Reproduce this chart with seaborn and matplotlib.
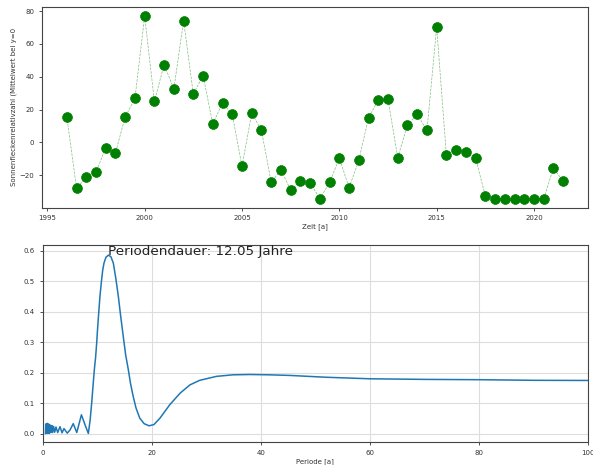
import matplotlib
matplotlib.use("Agg")
import matplotlib.pyplot as plt
import seaborn as sns
import pandas as pd

# Half-yearly sunspot relative numbers, mean removed
jahre = [1996.0, 1996.5, 1997.0, 1997.5, 1998.0, 1998.5, 1999.0, 1999.5,
         2000.0, 2000.5, 2001.0, 2001.5, 2002.0, 2002.5, 2003.0, 2003.5,
         2004.0, 2004.5, 2005.0, 2005.5, 2006.0, 2006.5, 2007.0, 2007.5,
         2008.0, 2008.5, 2009.0, 2009.5, 2010.0, 2010.5, 2011.0, 2011.5,
         2012.0, 2012.5, 2013.0, 2013.5, 2014.0, 2014.5, 2015.0, 2015.5,
         2016.0, 2016.5, 2017.0, 2017.5, 2018.0, 2018.5, 2019.0, 2019.5,
         2020.0, 2020.5, 2021.0, 2021.5]
sonnenflecken = [15.6, -27.8, -21.3, -18.3, -3.2, -6.3, 15.6, 26.8,
                 77.0, 25.0, 47.5, 32.5, 74.3, 29.4, 40.8, 11.2,
                 24.2, 17.1, -14.6, 17.9, 7.3, -24.4, -16.6, -29.0,
                 -23.8, -24.6, -34.3, -24.4, -9.5, -27.6, -11.0, 15.0,
                 25.8, 26.4, -9.3, 10.6, 17.1, 7.3, 70.3, -7.9,
                 -4.7, -5.7, -9.5, -32.7, -34.3, -34.3, -34.3, -34.3,
                 -34.3, -34.3, -15.6, -23.8]

# Periodogram: power over period in years
periode = [0.50, 0.55, 0.60, 0.65, 0.70, 0.75, 0.80, 0.85, 0.90, 0.95,
           1.00, 1.05, 1.10, 1.15, 1.20, 1.28, 1.35, 1.45, 1.55, 1.68,
           1.83, 2.00, 2.20, 2.44, 2.75, 3.17, 3.55, 3.90, 4.50, 5.00,
           5.60, 6.25, 7.10, 7.75, 8.37, 8.70, 8.98, 9.20, 9.47, 9.70,
           9.90, 10.05, 10.27, 10.50, 10.80, 11.00, 11.24, 11.60, 12.05, 12.50,
           12.95, 13.40, 13.87, 14.30, 14.78, 15.20, 15.70, 16.10, 16.60, 17.10,
           17.80, 18.60, 19.50, 20.40, 21.50, 23.30, 25.20, 27.00, 28.80, 31.90,
           34.90, 38.00, 41.50, 45.30, 52.00, 60.00, 70.00, 80.00, 90.00, 100.00]
leistung = [0.000, 0.030, 0.002, 0.033, 0.004, 0.031, 0.001, 0.034, 0.003, 0.030,
            0.002, 0.032, 0.004, 0.028, 0.001, 0.030, 0.003, 0.026, 0.005, 0.027,
            0.004, 0.024, 0.005, 0.022, 0.004, 0.023, 0.003, 0.017, 0.002, 0.012,
            0.033, 0.004, 0.062, 0.030, 0.001, 0.045, 0.100, 0.150, 0.210, 0.250,
            0.297, 0.340, 0.395, 0.450, 0.504, 0.535, 0.559, 0.578, 0.585, 0.580,
            0.559, 0.510, 0.450, 0.385, 0.318, 0.260, 0.210, 0.165, 0.122, 0.085,
            0.051, 0.033, 0.026, 0.030, 0.051, 0.095, 0.133, 0.160, 0.175, 0.188,
            0.193, 0.194, 0.193, 0.191, 0.185, 0.180, 0.178, 0.177, 0.175, 0.1745]
periodendauer = 12.05

sns.set_style("ticks")
plt.rcParams["font.family"] = ["DejaVu Sans"]
plt.rcParams.update({
    "xtick.labelsize": 5, "ytick.labelsize": 5, "axes.labelsize": 5,
    "xtick.major.size": 2, "ytick.major.size": 2,
    "xtick.major.width": 0.6, "ytick.major.width": 0.6,
    "axes.linewidth": 0.8, "axes.edgecolor": "#444444",
    "xtick.color": "#333333", "ytick.color": "#333333",
    "axes.labelcolor": "#333333",
})

df_zeit = pd.DataFrame({"Zeit": jahre, "Wert": sonnenflecken})
df_per = pd.DataFrame({"Periode": periode, "Leistung": leistung})

fig = plt.figure(figsize=(5.93, 4.65), dpi=100)
ax1 = fig.add_axes([0.0708, 0.553, 0.9208, 0.432])
ax2 = fig.add_axes([0.072, 0.0495, 0.9196, 0.4235])

# Time series
sns.lineplot(data=df_zeit, x="Zeit", y="Wert", ax=ax1, color="green",
             linestyle="--", linewidth=0.5, alpha=0.5, estimator=None)
sns.scatterplot(data=df_zeit, x="Zeit", y="Wert", ax=ax1, color="green",
                edgecolor="green", s=50, linewidth=0.5, zorder=3)
ax1.set_xlabel("Zeit [a]", labelpad=1)
ax1.set_ylabel("Sonnenfleckenrelativzahl (Mittelwert bei y=0", labelpad=2)
ax1.set_xticks([1995, 2000, 2005, 2010, 2015, 2020])
ax1.set_yticks([-20, 0, 20, 40, 60, 80])
ax1.margins(x=0.05, y=0.05)

# Periodogram
sns.lineplot(data=df_per, x="Periode", y="Leistung", ax=ax2,
             color="#1f77b4", linewidth=1.1, estimator=None, sort=False)
ax2.set_xlim(0, 100)
ax2.set_ylim(-0.027, 0.618)
ax2.set_yticks([0.0, 0.1, 0.2, 0.3, 0.4, 0.5, 0.6])
ax2.set_xticks([0, 20, 40, 60, 80, 100])
ax2.grid(True, color="#dddddd", linewidth=0.8)
ax2.set_axisbelow(True)
ax2.set_xlabel("Periode [a]", labelpad=2)
ax2.set_ylabel("")
ax2.text(periodendauer, max(leistung), f"Periodendauer: {periodendauer:.2f} Jahre",
         fontsize=9.7, color="#222222")

fig.savefig("out.png", dpi=100)
